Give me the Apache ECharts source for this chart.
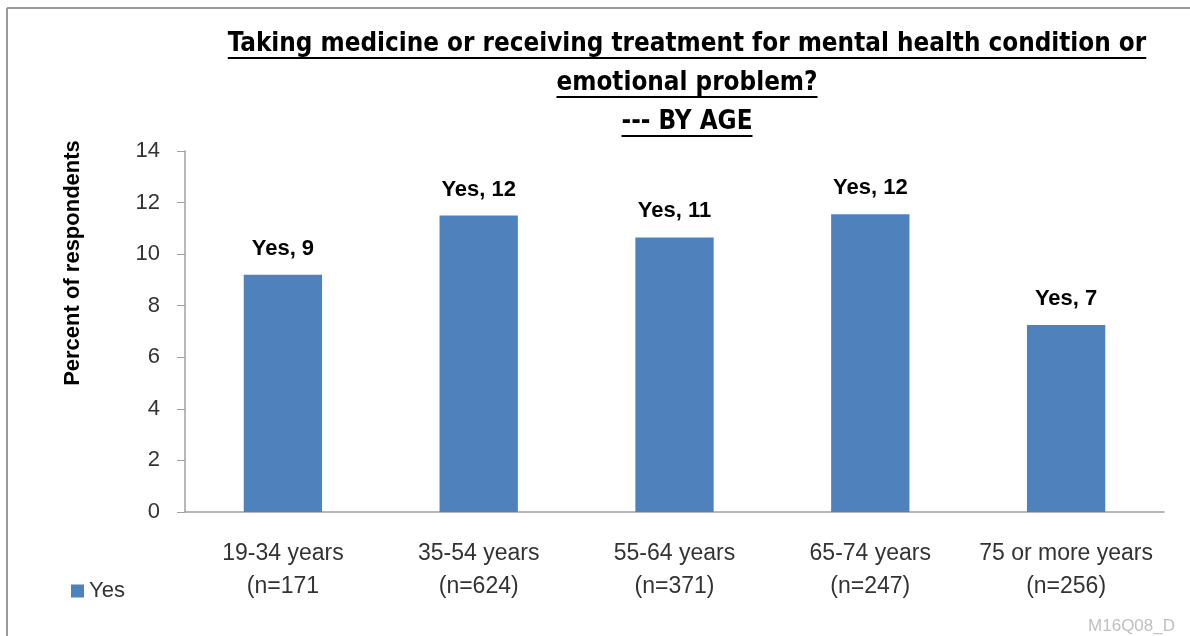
<!DOCTYPE html>
<html><head><meta charset="utf-8">
<script src="https://cdn.jsdelivr.net/npm/echarts@6/dist/echarts.min.js"></script>
<style>html,body{margin:0;padding:0;background:#fff}#c{width:1190px;height:636px}</style>
</head><body><div id="c"></div>
<script>
const categories = ['19-34 years\n(n=171', '35-54 years\n(n=624)', '55-64 years\n(n=371)', '65-74 years\n(n=247)', '75 or more years\n(n=256)'];
const yesValues = [9.2, 11.5, 10.65, 11.55, 7.25];
const yesLabels = [9, 12, 11, 12, 7];
const seriesName = 'Yes';
const yMin = 0, yMax = 14, yInterval = 2;
const titleLines = ['Taking medicine or receiving treatment for mental health condition or', 'emotional problem?', '--- BY AGE'];
const yAxisTitle = 'Percent of respondents';
const watermark = 'M16Q08_D';

const titleFamily = '"DejaVu Sans Condensed", "Liberation Sans Narrow", sans-serif';
const titleSize = 25.8;
const bodyFamily = '"Liberation Sans", Arial, sans-serif';

const cv = document.createElement('canvas').getContext('2d');
cv.font = 'bold ' + titleSize + 'px ' + titleFamily;
const titleX = 687;
const titleY = [44, 83, 122];
const graphics = [];
titleLines.forEach((t, i) => {
  const w = cv.measureText(t).width;
  graphics.push({type: 'text', x: titleX, y: titleY[i], style: {text: t, fontFamily: titleFamily, fontWeight: 'bold', fontSize: titleSize, fill: '#000', align: 'center', verticalAlign: 'middle'}});
  graphics.push({type: 'line', shape: {x1: titleX - w / 2, y1: titleY[i] + 14, x2: titleX + w / 2, y2: titleY[i] + 14}, style: {stroke: '#000', lineWidth: 2}});
});
graphics.push({type: 'text', x: 73, y: 263, rotation: Math.PI / 2, style: {text: yAxisTitle, fontFamily: bodyFamily, fontWeight: 'bold', fontSize: 22, fill: '#000', align: 'center', verticalAlign: 'middle'}});
graphics.push({type: 'text', x: 1175, y: 626, style: {text: watermark, fontFamily: bodyFamily, fontSize: 17, fill: '#c0c0c0', align: 'right', verticalAlign: 'middle'}});
graphics.push({type: 'line', shape: {x1: 7, y1: 8, x2: 1190, y2: 8}, style: {stroke: '#9a9a9a', lineWidth: 2}});
graphics.push({type: 'line', shape: {x1: 7, y1: 8, x2: 7, y2: 636}, style: {stroke: '#9a9a9a', lineWidth: 2}});

const chart = echarts.init(document.getElementById('c'), null, {renderer: 'canvas'});
chart.setOption({
  animation: false,
  backgroundColor: '#fff',
  grid: {left: 185, right: 26, top: 151, bottom: 124, containLabel: false},
  legend: {
    data: [seriesName], left: 66, top: 575, icon: 'rect', itemWidth: 13, itemHeight: 13, itemGap: 6,
    textStyle: {fontFamily: bodyFamily, fontSize: 22, color: '#333'}
  },
  xAxis: {
    type: 'category', data: categories,
    axisLine: {lineStyle: {color: '#a0a0a0', width: 1.5}},
    axisTick: {show: false},
    axisLabel: {fontFamily: bodyFamily, fontSize: 23, color: '#333', lineHeight: 33, margin: 25, interval: 0}
  },
  yAxis: {
    type: 'value', min: yMin, max: yMax, interval: yInterval,
    axisLine: {show: true, lineStyle: {color: '#a0a0a0', width: 1.5}},
    axisTick: {show: true, length: 8, lineStyle: {color: '#a0a0a0'}},
    splitLine: {show: false},
    axisLabel: {fontFamily: bodyFamily, fontSize: 22, color: '#333', margin: 25}
  },
  series: [{
    name: seriesName, type: 'bar', data: yesValues, barWidth: '40%',
    itemStyle: {color: '#4F81BD'},
    label: {show: true, position: 'top', distance: 15, fontFamily: bodyFamily, fontWeight: 'bold', fontSize: 22, color: '#000',
      formatter: p => seriesName + ', ' + yesLabels[p.dataIndex]}
  }],
  graphic: graphics
});
</script>
</body></html>
